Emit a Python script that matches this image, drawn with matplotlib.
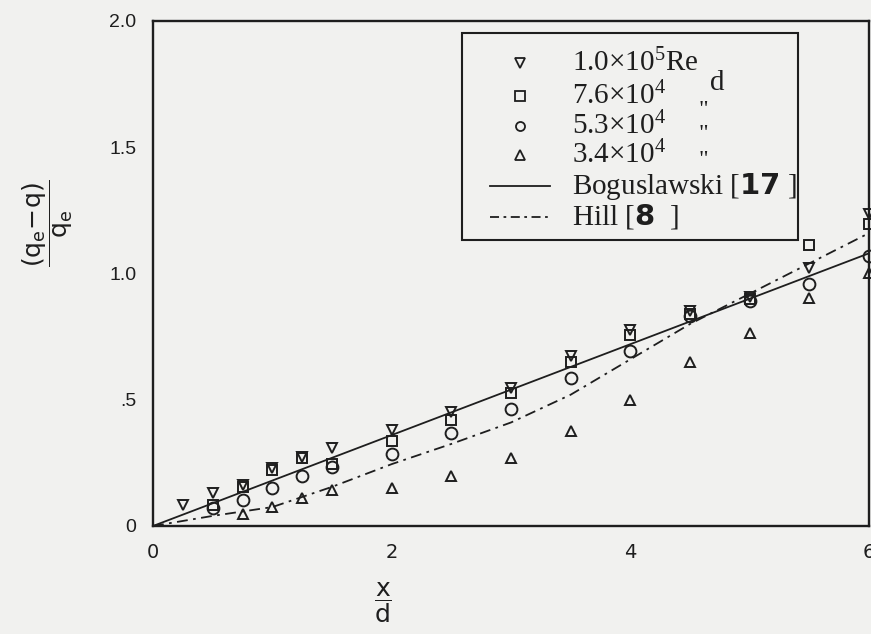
import numpy as np
import matplotlib
matplotlib.use("Agg")
import matplotlib.pyplot as plt
from matplotlib.patches import Rectangle
from matplotlib.lines import Line2D

nan = np.nan
# ---- data ----
x_d = [0.25, 0.5, 0.75, 1.0, 1.25, 1.5, 2.0, 2.5, 3.0, 3.5, 4.0, 4.5, 5.0, 5.5, 6.0]
re_100k = [0.083, 0.13, 0.162, 0.228, 0.275, 0.31, 0.38, 0.45, 0.545, 0.675, 0.776, 0.85, 0.905, 1.023, 1.235]
re_76k = [nan, 0.085, 0.155, 0.222, 0.27, 0.245, 0.335, 0.42, 0.525, 0.65, 0.756, 0.84, 0.90, 1.114, 1.195]
re_53k = [nan, 0.07, 0.103, 0.15, 0.20, 0.232, 0.285, 0.367, 0.465, 0.585, 0.693, 0.83, 0.893, 0.96, 1.07]
re_34k = [nan, nan, 0.048, 0.075, 0.11, 0.143, 0.15, 0.197, 0.27, 0.376, 0.50, 0.65, 0.766, 0.904, 1.0]

bog_x = [0, 1, 2, 3, 4, 5, 6]
bog_y = [0, 0.18, 0.36, 0.54, 0.72, 0.90, 1.08]
hill_x = [0, 0.5, 1.0, 1.5, 2.0, 2.5, 3.0, 3.5, 4.0, 4.5, 5.0, 5.5, 6.0]
hill_y = [0, 0.04, 0.075, 0.155, 0.245, 0.325, 0.41, 0.52, 0.66, 0.80, 0.92, 1.04, 1.16]

x_ticks = [0, 2, 4, 6]
x_ticklabels = ["0", "2", "4", "6"]
y_ticks = [0, 0.5, 1.0, 1.5, 2.0]
y_ticklabels = ["0", ".5", "1.0", "1.5", "2.0"]

legend_labels = ["1.0\u00d710$^{5}$Re", "7.6\u00d710$^{4}$", "5.3\u00d710$^{4}$",
                 "3.4\u00d710$^{4}$", "Boguslawski [$\\mathbf{17}$ ]", "Hill [$\\mathbf{8}$  ]"]

plt.rcParams['mathtext.fontset'] = 'custom'
plt.rcParams['mathtext.rm'] = 'Liberation Serif'
plt.rcParams['mathtext.it'] = 'Liberation Serif:italic'
plt.rcParams['mathtext.bf'] = 'DejaVu Sans:bold'
plt.rcParams['mathtext.sf'] = 'DejaVu Sans'

INK = '#1e1e1e'
PAPER = '#f1f1ef'

fig = plt.figure(figsize=(8.71, 6.34), dpi=100, facecolor=PAPER)
ax = fig.add_axes([153/871, 1 - 526/634, 716/871, 505/634])
ax.set_facecolor(PAPER)
ax.set_xlim(0, 6)
ax.set_ylim(0, 2)

mk = dict(linestyle='none', markerfacecolor='none', markeredgecolor=INK,
          markeredgewidth=1.4, clip_on=False, zorder=3)
ax.plot(x_d, re_100k, marker='v', markersize=7.5, **mk)
ax.plot(x_d, re_76k, marker='s', markersize=7.5, **mk)
ax.plot(x_d, re_53k, marker='o', markersize=8.5, **mk)
ax.plot(x_d, re_34k, marker='^', markersize=7.5, **mk)

ax.plot(bog_x, bog_y, '-', color=INK, lw=1.3, zorder=2)
ax.plot(hill_x, hill_y, color=INK, lw=1.3, dashes=(6, 3, 1.5, 3), zorder=2)

for s in ax.spines.values():
    s.set_linewidth(1.7)
    s.set_color(INK)

ax.set_xticks(x_ticks)
ax.set_xticklabels(x_ticklabels, family=['Liberation Sans Narrow', 'DejaVu Sans'],
                   fontsize=14, color=INK)
ax.set_yticks(y_ticks)
ax.set_yticklabels(y_ticklabels, family=['Liberation Sans', 'DejaVu Sans'],
                   fontsize=14, color=INK)
ax.tick_params(axis='x', length=0, pad=12)
ax.tick_params(axis='y', length=0, pad=12)

# axis labels (fractions)
ax.text(-0.147, 0.60, r"$\dfrac{\mathsf{(q_e\!-\!q)}}{\mathsf{q_e}}$", transform=ax.transAxes,
        rotation=90, ha='center', va='center', fontsize=18, color=INK)
ax.text(0.321, -0.152, r"$\dfrac{\mathsf{x}}{\mathsf{d}}$", transform=ax.transAxes,
        ha='center', va='center', fontsize=18, color=INK)

# legend box drawn by hand
ax.add_patch(Rectangle((0.4316, 0.566), 0.4692, 0.41, transform=ax.transAxes,
                       fill=False, edgecolor=INK, lw=1.5, zorder=4))
rows = [0.917, 0.851, 0.792, 0.735, 0.673, 0.612]
markers = ['v', 's', 'o', '^']
for m, yy in zip(markers, rows[:4]):
    ax.add_line(Line2D([0.5126], [yy], transform=ax.transAxes, marker=m, markersize=6.5,
                       markerfacecolor='none', markeredgecolor=INK, markeredgewidth=1.3,
                       linestyle='none'))
ax.add_line(Line2D([0.4707, 0.5545], [rows[4], rows[4]], transform=ax.transAxes,
                   color=INK, lw=1.3))
ax.add_line(Line2D([0.4707, 0.5545], [rows[5], rows[5]], transform=ax.transAxes,
                   color=INK, lw=1.3, dashes=(5, 2.5, 1.5, 2.5)))
for lab, yy in zip(legend_labels, rows):
    ax.text(0.585, yy, lab, transform=ax.transAxes, ha='left', va='center',
            family='Liberation Serif', fontsize=21, color=INK)
ax.text(0.7775, 0.878, "d", transform=ax.transAxes, ha='left', va='center',
        family='Liberation Serif', fontsize=21, color=INK)
for yy in [0.822, 0.776, 0.723]:
    ax.text(0.768, yy, '"', transform=ax.transAxes, ha='center', va='center',
            family='Liberation Serif', fontsize=17, color=INK)

fig.savefig("out.png", dpi=100, facecolor=PAPER)
